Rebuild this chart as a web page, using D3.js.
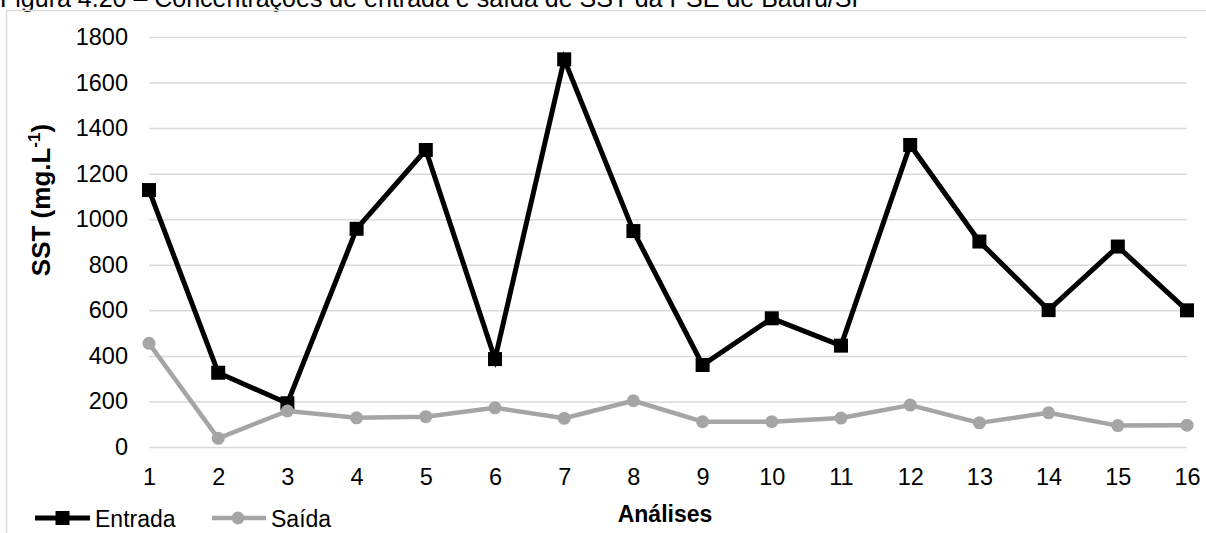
<!DOCTYPE html>
<html>
<head>
<meta charset="utf-8">
<script src="https://cdn.jsdelivr.net/npm/d3@7"></script>
<style>
  html, body { margin: 0; padding: 0; background: #fff; }
  svg { display: block; font-family: "Liberation Sans", Arial, sans-serif; }
</style>
</head>
<body>
<svg id="chart" width="1206" height="533"></svg>
<script>
// Análises (sample number)
const analises = [1, 2, 3, 4, 5, 6, 7, 8, 9, 10, 11, 12, 13, 14, 15, 16];
// SST in the inflow (mg/L)
const entrada = [1128, 326, 192, 958, 1304, 386, 1702, 948, 360, 565, 445, 1326, 902, 601, 880, 600];
// SST in the outflow (mg/L)
const saida = [455, 38, 158, 128, 133, 172, 126, 203, 111, 111, 127, 184, 106, 150, 94, 96];
// Y axis ticks
const yTicks = [0, 200, 400, 600, 800, 1000, 1200, 1400, 1600, 1800];

const FONT = "'Liberation Sans', Arial, sans-serif";
const svg = d3.select("#chart");

// Caption above the chart area
svg.append("text")
  .attr("x", 0).attr("y", 7)
  .style("font-size", "25px").attr("fill", "#000")
  .text("Figura 4.20 – Concentrações de entrada e saída de SST da PSE de Bauru/SP");

// Chart frame (top and left edges)
svg.append("path")
  .attr("d", "M1206,10.5 H6.5 V533")
  .attr("fill", "none").attr("stroke", "#d9d9d9").attr("stroke-width", 1.5);

const x = d3.scaleLinear().domain([1, 16]).range([149, 1187]);
const y = d3.scaleLinear().domain([0, 1800]).range([447, 37]);
const gridLeft = 149, gridRight = 1187;

// Horizontal gridlines
svg.append("g").selectAll("line").data(yTicks).join("line")
  .attr("x1", gridLeft).attr("x2", gridRight)
  .attr("y1", d => y(d) + 0.5).attr("y2", d => y(d) + 0.5)
  .attr("stroke", "#d9d9d9").attr("stroke-width", 1.5);

// Y axis tick labels
const yAxis = d3.axisLeft(y).tickValues(yTicks).tickFormat(d3.format("d")).tickSize(0).tickPadding(0);
const gy = svg.append("g").attr("transform", "translate(128,0)").call(yAxis);
gy.attr("font-size", null).attr("font-family", null);
gy.select(".domain").remove();
gy.selectAll("text").style("font-size", "23.5px").style("font-family", FONT).attr("fill", "#000");

// X axis tick labels
const xAxis = d3.axisBottom(x).tickValues(analises).tickFormat(d3.format("d")).tickSize(0).tickPadding(0);
const gx = svg.append("g").attr("transform", "translate(0,468)").call(xAxis);
gx.attr("font-size", null).attr("font-family", null);
gx.select(".domain").remove();
gx.selectAll("text").style("font-size", "23.5px").style("font-family", FONT).attr("fill", "#000");

// Axis titles
const yTitle = svg.append("text")
  .attr("transform", "translate(50,200) rotate(-90)")
  .attr("text-anchor", "middle")
  .style("font-size", "26px").attr("font-weight", "bold").attr("fill", "#000");
yTitle.append("tspan").text("SST (mg.L");
yTitle.append("tspan").style("font-size", "17px").attr("dy", -10).text("-1");
yTitle.append("tspan").attr("dy", 10).text(")");

svg.append("text")
  .attr("x", 665).attr("y", 522)
  .attr("text-anchor", "middle")
  .style("font-size", "23px").attr("font-weight", "bold").attr("fill", "#000")
  .text("Análises");

const line = d3.line().x((d, i) => x(analises[i])).y(d => y(d));

// Entrada series (black, squares)
svg.append("path").datum(entrada)
  .attr("d", line).attr("fill", "none")
  .attr("stroke", "#000").attr("stroke-width", 5).attr("stroke-linejoin", "miter");
svg.append("g").selectAll("rect").data(entrada).join("rect")
  .attr("x", (d, i) => x(analises[i]) - 7).attr("y", d => y(d) - 7)
  .attr("width", 14).attr("height", 14).attr("fill", "#000");

// Saída series (gray, circles), drawn over the inflow series
svg.append("path").datum(saida)
  .attr("d", line).attr("fill", "none")
  .attr("stroke", "#a5a5a5").attr("stroke-width", 4.5).attr("stroke-linejoin", "round");
svg.append("g").selectAll("circle").data(saida).join("circle")
  .attr("cx", (d, i) => x(analises[i])).attr("cy", d => y(d))
  .attr("r", 6.5).attr("fill", "#a5a5a5");

// Legend
const lg = svg.append("g").attr("transform", "translate(0,518)");
lg.append("line").attr("x1", 35).attr("x2", 90).attr("y1", 0).attr("y2", 0)
  .attr("stroke", "#000").attr("stroke-width", 5);
lg.append("rect").attr("x", 55.5).attr("y", -7).attr("width", 14).attr("height", 14).attr("fill", "#000");
lg.append("text").attr("x", 95).attr("y", 9).style("font-size", "23px").attr("fill", "#000").text("Entrada");

lg.append("line").attr("x1", 212).attr("x2", 266).attr("y1", 0).attr("y2", 0)
  .attr("stroke", "#a5a5a5").attr("stroke-width", 4.5);
lg.append("circle").attr("cx", 238).attr("cy", 0).attr("r", 6.5).attr("fill", "#a5a5a5");
lg.append("text").attr("x", 271).attr("y", 9).style("font-size", "23px").attr("fill", "#000").text("Saída");
</script>
</body>
</html>
